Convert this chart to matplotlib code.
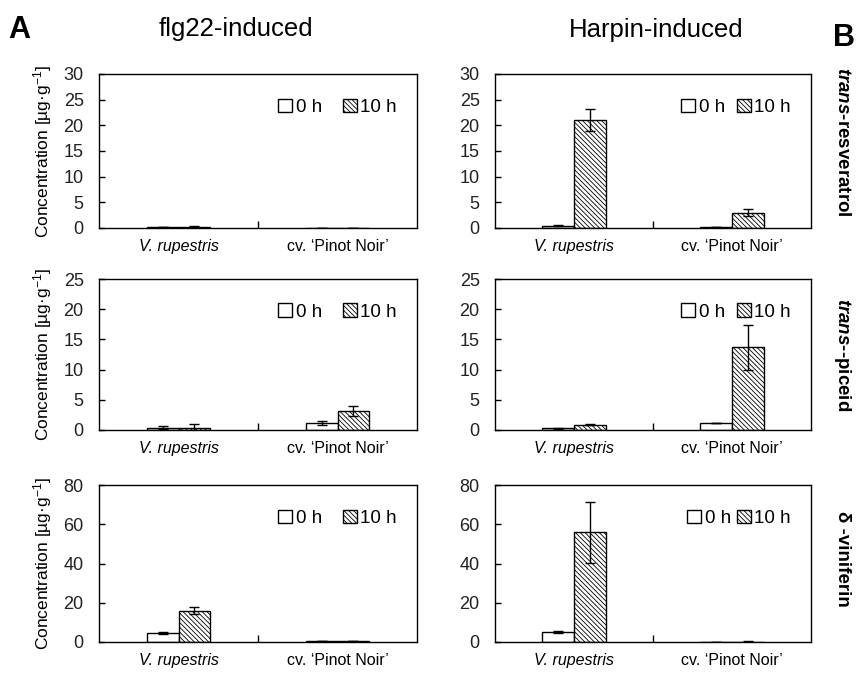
import matplotlib
matplotlib.use('Agg')
import matplotlib.pyplot as plt
from matplotlib.patches import Patch
import numpy as np

plt.rcParams['font.family'] = ['Liberation Sans', 'DejaVu Sans']
plt.rcParams['mathtext.fontset'] = 'custom'
plt.rcParams['mathtext.rm'] = 'Liberation Sans'
plt.rcParams['mathtext.it'] = 'Liberation Sans:italic'
plt.rcParams['mathtext.bf'] = 'Liberation Sans:bold'
plt.rcParams['mathtext.bfit'] = 'Liberation Sans:italic:bold'
plt.rcParams['hatch.linewidth'] = 0.6

# data (rows: trans-resveratrol, trans-piceid, delta-viniferin; cols: V. rupestris, Pinot Noir)
categories = ['V. rupestris', 'cv. \u2018Pinot Noir\u2019']
treatments = ['flg22-induced', 'Harpin-induced']
compounds = [r'$\mathbfit{trans}$-resveratrol', r'$\mathbfit{trans}$--piceid', 'δ -viniferin']

flg22_0h = [[0.15, 0.02], [0.4, 1.2], [4.5, 0.3]]
flg22_0h_err = [[0.05, 0.0], [0.2, 0.3], [0.5, 0.0]]
flg22_10h = [[0.25, 0.03], [0.4, 3.1], [16.0, 0.3]]
flg22_10h_err = [[0.1, 0.0], [0.6, 0.8], [1.8, 0.0]]

harpin_0h = [[0.4, 0.1], [0.3, 1.1], [5.0, 0.2]]
harpin_0h_err = [[0.1, 0.0], [0.1, 0.0], [0.6, 0.0]]
harpin_10h = [[21.0, 3.0], [0.9, 13.7], [56.0, 0.1]]
harpin_10h_err = [[2.2, 0.7], [0.1, 3.7], [15.5, 0.3]]

ymax = [30, 25, 80]
ystep = [5, 5, 20]

HATCH = '\\' * 7

fig = plt.figure(figsize=(8.57, 6.82), dpi=100)

# axes boxes in pixels: (top, bottom) and (left, right)
rows_px = [(74, 228), (279, 430), (485, 642)]
cols_px = [(99, 417), (495, 811)]
label_y = [142, 355, 559]
leg_spacing = [[1.1, 0.6], [1.1, 0.6], [1.1, 0.3]]
W, H = 857, 682

series = [(flg22_0h, flg22_0h_err, flg22_10h, flg22_10h_err),
          (harpin_0h, harpin_0h_err, harpin_10h, harpin_10h_err)]

x = np.arange(len(categories))
w = 0.2
for r in range(3):
    for c in range(2):
        top, bot = rows_px[r]
        left, right = cols_px[c]
        ax = fig.add_axes([left / W, 1 - bot / H, (right - left) / W, (bot - top) / H])
        m0, e0, m10, e10 = series[c]
        ax.bar(x - w / 2, m0[r], w, color='white', edgecolor='black', linewidth=1,
               yerr=e0[r], capsize=3.5, error_kw=dict(elinewidth=1, capthick=1))
        ax.bar(x + w / 2, m10[r], w, color='white', edgecolor='black', linewidth=1,
               hatch=HATCH, yerr=e10[r], capsize=3.5, error_kw=dict(elinewidth=1, capthick=1))
        ax.set_xlim(-0.5, 1.5)
        ax.set_ylim(0, ymax[r])
        ax.set_yticks(np.arange(0, ymax[r] + 1, ystep[r]))
        ax.tick_params(axis='y', direction='in', length=4, width=1, pad=11,
                       labelsize=13, labelcolor='#222222')
        ax.set_xticks(x)
        ax.set_xticklabels(categories, fontsize=11.5)
        ax.get_xticklabels()[0].set_style('italic')
        ax.tick_params(axis='x', which='major', length=0, pad=8)
        ax.set_xticks([0.5], minor=True)
        ax.tick_params(axis='x', which='minor', direction='in', length=5, width=1)
        for s in ax.spines.values():
            s.set_linewidth(1)
        if c == 0:
            ax.set_ylabel(r'Concentration [µg·g$^{-1}$]', fontsize=12.5, labelpad=7)
        handles = [Patch(facecolor='white', edgecolor='black', label='0 h'),
                   Patch(facecolor='white', edgecolor='black', hatch=HATCH, label='10 h')]
        ax.legend(handles=handles, loc='upper right', bbox_to_anchor=(0.99, 0.95),
                  ncol=2, frameon=False, fontsize=13.5, handlelength=0.75, handleheight=0.75,
                  handletextpad=0.2, columnspacing=leg_spacing[r][c])
        if c == 1:
            fig.text(843 / W, 1 - label_y[r] / H, compounds[r], rotation=-90,
                     ha='center', va='center', fontsize=13.5, fontweight='bold')

fig.text(236 / W, 1 - 29 / H, treatments[0], ha='center', va='center', fontsize=18.5)
fig.text(656 / W, 1 - 30 / H, treatments[1], ha='center', va='center', fontsize=18.5)
fig.text(8 / W, 1 - 30 / H, 'A', ha='left', va='center', fontsize=22, fontweight='bold')
fig.text(833 / W, 1 - 38 / H, 'B', ha='left', va='center', fontsize=22, fontweight='bold')

fig.savefig('out.png', dpi=100)
